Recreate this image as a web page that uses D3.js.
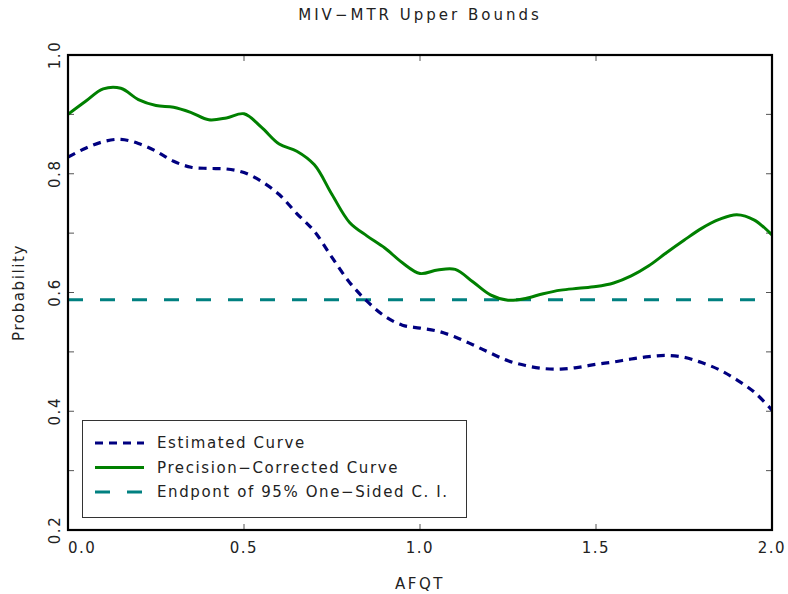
<!DOCTYPE html>
<html lang="en">
<head>
    <meta charset="UTF-8">
    <title>MIV-MTR Upper Bounds</title>
    <style>
        body {
            margin: 0;
            background: #fff;
        }
        text {
            font-family: "DejaVu Sans", sans-serif;
            fill: #222;
        }
    </style>
</head>
<body>
<script src="https://cdn.jsdelivr.net/npm/d3@7"></script>
<script>

    var afqt = [0.00, 0.05, 0.10, 0.15, 0.20, 0.25, 0.30, 0.35, 0.40, 0.45,
                0.50, 0.55, 0.60, 0.65, 0.70, 0.75, 0.80, 0.85, 0.90, 0.95,
                1.00, 1.05, 1.10, 1.15, 1.20, 1.25, 1.30, 1.35, 1.40, 1.45,
                1.50, 1.55, 1.60, 1.65, 1.70, 1.75, 1.80, 1.85, 1.90, 1.95, 2.00];

    var estimated = [0.828, 0.843, 0.854, 0.858, 0.851, 0.838, 0.821, 0.811, 0.809, 0.808,
                     0.802, 0.787, 0.765, 0.733, 0.703, 0.659, 0.617, 0.585, 0.560, 0.545,
                     0.540, 0.535, 0.525, 0.512, 0.498, 0.485, 0.477, 0.472, 0.471, 0.474,
                     0.479, 0.483, 0.488, 0.492, 0.494, 0.491, 0.482, 0.470, 0.453, 0.432, 0.402];

    var corrected = [0.900, 0.922, 0.943, 0.944, 0.925, 0.915, 0.912, 0.903, 0.891, 0.894,
                     0.901, 0.878, 0.850, 0.838, 0.815, 0.765, 0.718, 0.695, 0.675, 0.650,
                     0.632, 0.638, 0.639, 0.618, 0.596, 0.587, 0.590, 0.598, 0.604, 0.607,
                     0.610, 0.616, 0.628, 0.645, 0.667, 0.688, 0.708, 0.723, 0.731, 0.722, 0.697];

    var endpoint = 0.588;

    var xTicks = [0, 0.5, 1.0, 1.5, 2.0];
    var yTicks = [0.2, 0.3, 0.4, 0.5, 0.6, 0.7, 0.8, 0.9, 1.0];
    var yLabels = [0.2, 0.4, 0.6, 0.8, 1.0];

    var legendItems = ['Estimated Curve', 'Precision\u2212Corrected Curve', 'Endpont of 95% One\u2212Sided C. I.'];

    var width = 788,
        height = 594;
    var m = {left: 68, right: 16, top: 55, bottom: 64};

    var x = d3.scaleLinear().domain([0, 2]).range([m.left, width - m.right]);
    var y = d3.scaleLinear().domain([0.2, 1.0]).range([height - m.bottom, m.top]);

    var svg = d3.select('body').append('svg')
        .attr('width', width)
        .attr('height', height);

    svg.append('clipPath').attr('id', 'clip')
        .append('rect')
        .attr('x', m.left).attr('y', m.top)
        .attr('width', x(2) - x(0)).attr('height', y(0.2) - y(1.0));

    // ticks on all four sides, pointing inward
    var tl = 6;
    var ticks = svg.append('g').attr('stroke', '#555').attr('stroke-width', 1);
    xTicks.slice(1, -1).forEach(function (t) {
        ticks.append('line').attr('x1', x(t)).attr('x2', x(t)).attr('y1', y(0.2)).attr('y2', y(0.2) - tl);
        ticks.append('line').attr('x1', x(t)).attr('x2', x(t)).attr('y1', y(1.0)).attr('y2', y(1.0) + tl);
    });
    yTicks.slice(1, -1).forEach(function (t) {
        ticks.append('line').attr('x1', x(0)).attr('x2', x(0) + tl).attr('y1', y(t)).attr('y2', y(t));
        ticks.append('line').attr('x1', x(2)).attr('x2', x(2) - tl).attr('y1', y(t)).attr('y2', y(t));
    });

    var line = d3.line()
        .x(function (d) { return x(d[0]); })
        .y(function (d) { return y(d[1]); })
        .curve(d3.curveCatmullRom);

    var plot = svg.append('g').attr('clip-path', 'url(#clip)');

    plot.append('path')
        .datum([[0, endpoint], [1.965, endpoint]])
        .attr('fill', 'none')
        .attr('stroke', '#008080')
        .attr('stroke-width', 3)
        .attr('stroke-dasharray', '15,17')
        .attr('d', d3.line().x(d => x(d[0])).y(d => y(d[1])));

    plot.append('path')
        .datum(afqt.map((v, i) => [v, corrected[i]]))
        .attr('fill', 'none')
        .attr('stroke', '#008000')
        .attr('stroke-width', 3)
        .attr('d', line);

    plot.append('path')
        .datum(afqt.map((v, i) => [v, estimated[i]]))
        .attr('fill', 'none')
        .attr('stroke', '#000080')
        .attr('stroke-width', 3.2)
        .attr('stroke-dasharray', '8,6')
        .attr('d', line);

    // frame
    svg.append('rect')
        .attr('x', x(0)).attr('y', y(1.0))
        .attr('width', x(2) - x(0)).attr('height', y(0.2) - y(1.0))
        .attr('fill', 'none')
        .attr('stroke', '#000')
        .attr('stroke-width', 2.2);

    // tick labels
    svg.selectAll('.xlab')
        .data(xTicks)
        .enter()
        .append('text')
        .attr('x', d => x(d))
        .attr('y', 553)
        .attr('text-anchor', (d, i) => i === 0 ? 'start' : 'middle')
        .attr('font-size', 15)
        .attr('letter-spacing', 1.5)
        .text(d => d.toFixed(1));

    svg.selectAll('.ylab')
        .data(yLabels)
        .enter()
        .append('text')
        .attr('transform', d => 'translate(60,' + y(d) + ') rotate(-90)')
        .attr('text-anchor', 'middle')
        .attr('font-size', 15)
        .attr('letter-spacing', 1.5)
        .text(d => d.toFixed(1));

    svg.append('text')
        .attr('x', (x(0) + x(2)) / 2)
        .attr('y', 20)
        .attr('text-anchor', 'middle')
        .attr('font-size', 15)
        .attr('letter-spacing', 3)
        .text('MIV\u2212MTR Upper Bounds');

    svg.append('text')
        .attr('x', (x(0) + x(2)) / 2)
        .attr('y', 589)
        .attr('text-anchor', 'middle')
        .attr('font-size', 15)
        .attr('letter-spacing', 2.5)
        .text('AFQT');

    svg.append('text')
        .attr('transform', 'translate(24,' + ((y(0.2) + y(1.0)) / 2) + ') rotate(-90)')
        .attr('text-anchor', 'middle')
        .attr('font-size', 15)
        .attr('letter-spacing', 1.6)
        .text('Probability');

    // legend
    var lg = svg.append('g');
    lg.append('rect')
        .attr('x', 82.5).attr('y', 420.5)
        .attr('width', 384).attr('height', 97)
        .attr('fill', '#fff')
        .attr('stroke', '#333')
        .attr('stroke-width', 1);

    var legendStyle = [
        {color: '#000080', dash: '8,6'},
        {color: '#008000', dash: null},
        {color: '#008080', dash: '15,17'}
    ];

    legendItems.forEach(function (label, i) {
        var ly = 443 + i * 24.5;
        lg.append('line')
            .attr('x1', 95).attr('x2', 144)
            .attr('y1', ly).attr('y2', ly)
            .attr('stroke', legendStyle[i].color)
            .attr('stroke-width', 3)
            .attr('stroke-dasharray', legendStyle[i].dash);
        lg.append('text')
            .attr('x', 157)
            .attr('y', ly + 5)
            .attr('font-size', 15)
            .attr('letter-spacing', 1.6)
            .text(label);
    });
</script>
</body>
</html>
